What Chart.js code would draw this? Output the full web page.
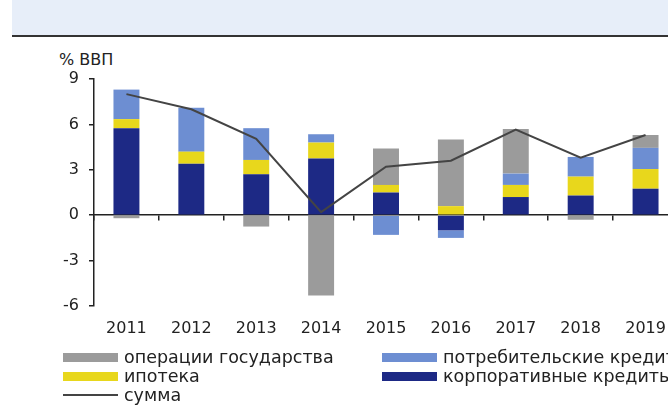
<!DOCTYPE html>
<html>
<head>
<meta charset="utf-8">
<script src="https://cdn.jsdelivr.net/npm/chart.js@4"></script>
<style>
  html, body { margin: 0; padding: 0; width: 668px; height: 408px; overflow: hidden; background: #fff; }
  body { position: relative; font-family: "DejaVu Sans", sans-serif; color: #222; }
  #band { position: absolute; left: 12px; top: 0; width: 660px; height: 35px; background: #e7eef9; border-bottom: 2px solid #333; }
  #wrap { position: absolute; left: 0; top: 0; width: 680px; height: 350px; }
  #ylab { position: absolute; left: 59px; top: 50px; font-size: 16px; }
  .lg { position: absolute; font-size: 17.5px; line-height: 18px; white-space: nowrap; }
  .sw { display: inline-block; width: 55px; height: 9px; vertical-align: 1px; margin-right: 6px; }
  .ln { display: inline-block; width: 55px; height: 2px; background: #444; vertical-align: 5px; margin-right: 6px; }
</style>
</head>
<body>
<div id="band"></div>
<div id="ylab">% ВВП</div>
<div id="wrap"><canvas id="chart" width="680" height="350"></canvas></div>
<div id="legend"></div>
<script>
var years = ["2011", "2012", "2013", "2014", "2015", "2016", "2017", "2018", "2019"];
var corporate = [5.75, 3.4, 2.7, 3.75, 1.5, -1.0, 1.2, 1.3, 1.75];
var mortgage = [0.6, 0.8, 0.95, 1.05, 0.5, 0.6, 0.8, 1.25, 1.3];
var consumer = [1.95, 2.9, 2.1, 0.55, -1.3, -0.5, 0.75, 1.3, 1.4];
var government = [-0.2, 0, -0.75, -5.3, 2.4, 4.4, 2.95, -0.3, 0.85];
var total = [8.0, 7.0, 5.05, 0.2, 3.2, 3.6, 5.65, 3.8, 5.3];
var yTicks = [-6, -3, 0, 3, 6, 9];

var colors = {
  gov: "#9b9b9b",
  cons: "#6d8ed2",
  mort: "#e8d71c",
  corp: "#1d2985",
  sum: "#444444"
};

// legend drawn as html, two columns like the original
var legendItems = [
  { text: "операции государства", color: colors.gov, x: 63, y: 348 },
  { text: "потребительские кредиты", color: colors.cons, x: 382, y: 348 },
  { text: "ипотека", color: colors.mort, x: 63, y: 367 },
  { text: "корпоративные кредиты", color: colors.corp, x: 382, y: 367 },
  { text: "сумма", color: colors.sum, x: 63, y: 386, line: true }
];
var lg = document.getElementById("legend");
legendItems.forEach(function (it) {
  var d = document.createElement("div");
  d.className = "lg";
  d.style.left = it.x + "px";
  d.style.top = it.y + "px";
  var s = document.createElement("span");
  s.className = it.line ? "ln" : "sw";
  s.style.background = it.color;
  d.appendChild(s);
  d.appendChild(document.createTextNode(it.text));
  lg.appendChild(d);
});

var tickFont = { family: "DejaVu Sans", size: 16 };

var ctx = document.getElementById("chart");
var myChart = new Chart(ctx, {
  type: 'bar',
  data: {
    labels: years,
    datasets: [
      { type: 'line', label: "сумма", data: total, borderColor: colors.sum, borderWidth: 2, pointRadius: 0, tension: 0, order: 0, stack: 'line' },
      { label: "корпоративные кредиты", data: corporate, backgroundColor: colors.corp, stack: 's', order: 1 },
      { label: "ипотека", data: mortgage, backgroundColor: colors.mort, stack: 's', order: 1 },
      { label: "потребительские кредиты", data: consumer, backgroundColor: colors.cons, stack: 's', order: 1 },
      { label: "операции государства", data: government, backgroundColor: colors.gov, stack: 's', order: 1 }
    ]
  },
  options: {
    responsive: false,
    animation: false,
    events: [],
    layout: { padding: { top: 79, left: 0, right: 2, bottom: 0 } },
    plugins: { legend: { display: false }, tooltip: { enabled: false } },
    datasets: { bar: { categoryPercentage: 1.0, barPercentage: 0.4 } },
    scales: {
      x: {
        stacked: true,
        grid: { display: false, drawTicks: false },
        border: { display: false },
        ticks: { color: "#222", font: tickFont, padding: 13, maxRotation: 0, autoSkip: false },
        afterFit: function (scale) { scale.height = 44; }
      },
      x2: {
        type: 'category',
        labels: years,
        position: { y: 0 },
        offset: true,
        grid: { drawOnChartArea: false, offset: true, tickLength: 5, color: "#222", lineWidth: 1.5 },
        border: { display: true, color: "#222", width: 1.5 },
        ticks: { display: false }
      },
      y: {
        stacked: true,
        min: -6,
        max: 9,
        afterBuildTicks: function (scale) {
          scale.ticks = yTicks.map(function (v) { return { value: v }; });
        },
        grid: { drawOnChartArea: false, tickLength: 5, color: "#222", lineWidth: 1.5 },
        border: { display: true, color: "#222", width: 1.5 },
        ticks: { color: "#222", font: tickFont, padding: 10 },
        afterFit: function (scale) { scale.width = 94; }
      }
    }
  }
});
</script>
</body>
</html>
